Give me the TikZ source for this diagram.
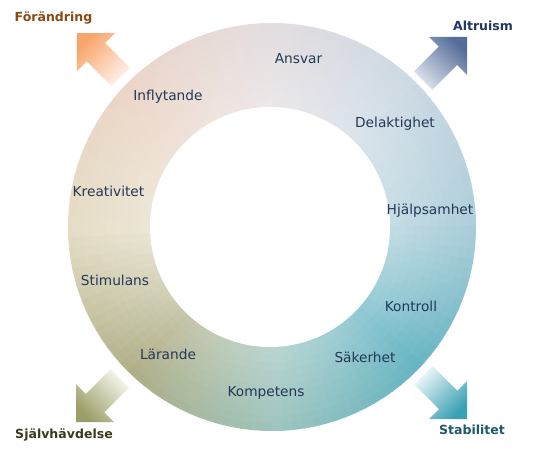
\documentclass[tikz,border=0pt]{standalone}
\usepackage{fontspec}
\setmainfont{DejaVu Sans}
\definecolor{c0}{RGB}{173,206,217}
\definecolor{c1}{RGB}{204,217,228}
\definecolor{c2}{RGB}{228,221,223}
\definecolor{c3}{RGB}{235,213,199}
\definecolor{c4}{RGB}{228,221,197}
\definecolor{c5}{RGB}{174,174,134}
\definecolor{c6}{RGB}{157,196,190}
\definecolor{c7}{RGB}{100,180,194}
\definecolor{c8}{RGB}{173,206,217}
\definecolor{txt}{RGB}{36,56,88}
\definecolor{orDk}{RGB}{249,164,106}
\definecolor{orLt}{RGB}{253,242,234}
\definecolor{blDk}{RGB}{84,108,152}
\definecolor{blLt}{RGB}{220,226,236}
\definecolor{olDk}{RGB}{155,158,104}
\definecolor{olLt}{RGB}{246,246,236}
\definecolor{tlDk}{RGB}{58,160,180}
\definecolor{tlLt}{RGB}{236,246,248}
\definecolor{brownT}{RGB}{138,74,18}
\definecolor{navyT}{RGB}{31,56,100}
\definecolor{oliveT}{RGB}{58,58,30}
\definecolor{tealT}{RGB}{30,90,104}
\tikzset{
  lbl/.style={font=\fontsize{10.3}{12}\selectfont, text=txt, inner sep=0pt},
  biglbl/.style={font=\bfseries\fontsize{9.4}{11}\selectfont, inner sep=0pt}
}
\begin{document}
\begin{tikzpicture}[x=0.75pt,y=0.75pt]
\fill[white] (0,0) rectangle (542,455);
\useasboundingbox (0,0) rectangle (542,455);
% ring
\begin{scope}[shift={(272,228)}]
\foreach \i in {0,...,119}{
  \pgfmathsetmacro\a{3*\i}
  \pgfmathsetmacro\b{3*\i+3.4}
  \pgfmathtruncatemacro\k{floor(\a/45)}
  \pgfmathtruncatemacro\kk{\k+1}
  \pgfmathtruncatemacro\p{100-round(100*(\a-45*\k)/45)}
  \colorlet{wc}{c\k!\p!c\kk}
  \foreach \j in {0,...,11}{
    \pgfmathsetmacro\ra{84+5.75*\j}
    \pgfmathsetmacro\rb{min(\ra+6.3,153)}
    \pgfmathsetmacro\ff{max(0,min(1,(\ra+2.9-89.25)/63.75))}
    \pgfmathtruncatemacro\q{round(100-30*(1-\ff))}
    \colorlet{wd}{wc!\q!white}
    \fill[wd] (\a:\ra pt) arc[start angle=\a, end angle=\b, radius=\ra pt]
       -- (\b:\rb pt) arc[start angle=\b, end angle=\a, radius=\rb pt] -- cycle;
  }
}
\end{scope}
\fill[white] (270,228) circle[radius=90pt];
% arrows
\foreach \tx/\ty/\a/\dk/\lt in {77/422/135/orDk/orLt, 467/418/45/blDk/blLt, 76/33/225/olDk/olLt, 467/36/315/tlDk/tlLt}{
  \pgfmathsetmacro\sa{\a-90}
  \pgfmathsetmacro\ah{\a+225}
  \pgfmathsetmacro\ap{\a+90}
  \pgfmathsetmacro\ab{\a+180}
  \shade[top color=\dk, bottom color=\lt, shading angle=\sa]
    (\tx,\ty) -- ++(\ah:38) -- ++(\ap:14) -- ++(\ab:35) -- ++(\ap:26)
    -- ++(\a:35) -- ++(\ap:14) -- cycle;
}
% labels on ring
\node[lbl] (ansvar) at (298.5,396) {Ansvar};
\node[lbl] (infl) at (168,358) {Inflytande};
\node[lbl] (delak) at (395,331) {Delaktighet};
\node[lbl] (kreat) at (108.5,264) {Kreativitet};
\node[lbl] (hjalp) at (430,244) {Hjälpsamhet};
\node[lbl] (stim) at (115,175) {Stimulans};
\node[lbl] (kontr) at (411,149) {Kontroll};
\node[lbl] (larande) at (168,101) {Lärande};
\node[lbl] (saker) at (365,98) {Säkerhet};
\node[lbl] (kompet) at (266,62) {Kompetens};
% corner labels
\node[biglbl, text=brownT] (forandring) at (53.5,437) {Förändring};
\node[biglbl, text=navyT] (altruism) at (483,429) {Altruism};
\node[biglbl, text=oliveT] (sjalv) at (64,20) {Självhävdelse};
\node[biglbl, text=tealT] (stab) at (472,25) {Stabilitet};
\end{tikzpicture}
\end{document}
